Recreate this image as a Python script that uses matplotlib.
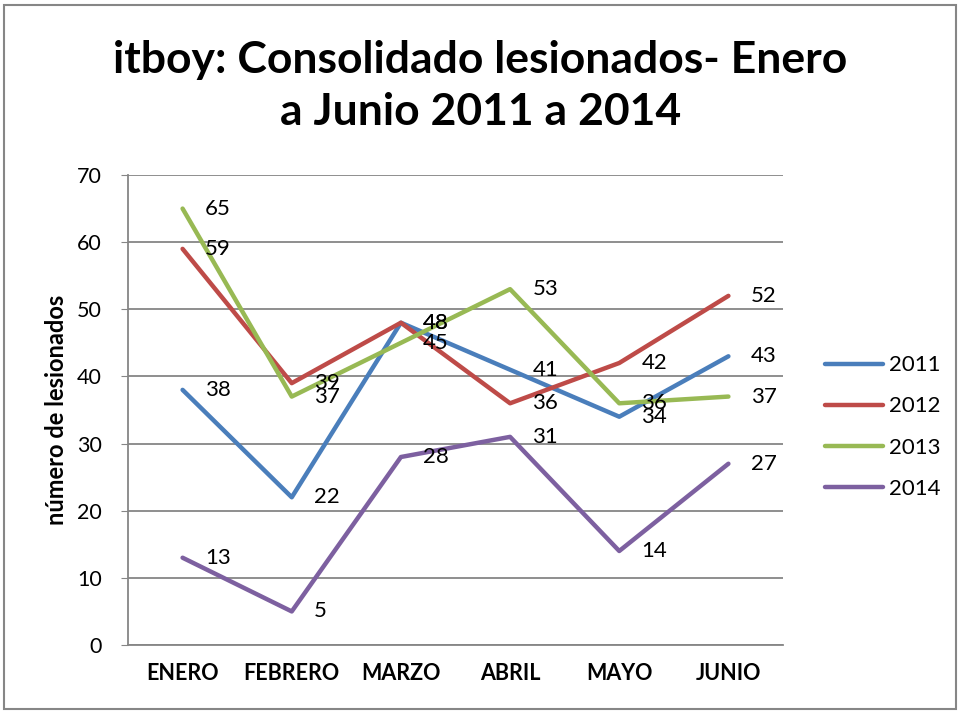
import matplotlib.pyplot as plt
from matplotlib.patches import Rectangle

meses = ["ENERO", "FEBRERO", "MARZO", "ABRIL", "MAYO", "JUNIO"]
anios = ["2011", "2012", "2013", "2014"]
v2011 = [38, 22, 48, 41, 34, 43]
v2012 = [59, 39, 48, 36, 42, 52]
v2013 = [65, 37, 45, 53, 36, 37]
v2014 = [13, 5, 28, 31, 14, 27]
series = [v2011, v2012, v2013, v2014]
colores = ["#4A7EBB", "#BE4B48", "#98B954", "#7D60A0"]

plt.rcParams['font.family'] = ['Lato', 'DejaVu Sans']

fig = plt.figure(figsize=(9.61, 7.13), dpi=100)
ax = fig.add_axes([128/961, 1 - 645/713, 655/961, 470/713])

# borde exterior del grafico
fig.patches.append(Rectangle((4/961, 4/713), 952/961, 704/713, transform=fig.transFigure,
                             fill=False, edgecolor="#868686", linewidth=1.5))

x = range(len(meses))
for vals, anio, col in zip(series, anios, colores):
    ax.plot(x, vals, color=col, linewidth=3.2, label=anio, solid_capstyle='round')
    for xi, v in zip(x, vals):
        ax.annotate(str(v), (xi, v), xytext=(16, 0), textcoords='offset points',
                    va='center', ha='left', fontsize=16)

ax.set_xlim(-0.5, 5.5)
ax.set_ylim(0, 70)
ax.set_yticks(range(0, 71, 10))
ax.set_xticks(list(x))
ax.set_xticklabels(meses, fontweight='bold', fontsize=15.5)
ax.tick_params(axis='y', labelsize=15.5, length=5, color="#868686", pad=14)
ax.tick_params(axis='x', length=0, pad=13)
ax.grid(axis='y', color="#868686", linewidth=1.3)
ax.set_axisbelow(True)
for s in ['top', 'right']:
    ax.spines[s].set_visible(False)
for s in ['left', 'bottom']:
    ax.spines[s].set_color("#868686")
    ax.spines[s].set_linewidth(1.3)

ax.set_ylabel("número de lesionados", fontweight='bold', fontsize=17, labelpad=6)

fig.text(0.5, 1 - 60/713, "itboy: Consolidado lesionados- Enero", ha='center', va='center',
         fontsize=32, fontweight='bold')
fig.text(0.5, 1 - 112/713, "a Junio 2011 a 2014", ha='center', va='center',
         fontsize=32, fontweight='bold')

fig.legend(loc='center left', bbox_to_anchor=(805/961, 1 - 427/713), frameon=False,
           fontsize=16, handlelength=2.6, labelspacing=0.95, handletextpad=0.3)

fig.savefig("out.png", dpi=100)
